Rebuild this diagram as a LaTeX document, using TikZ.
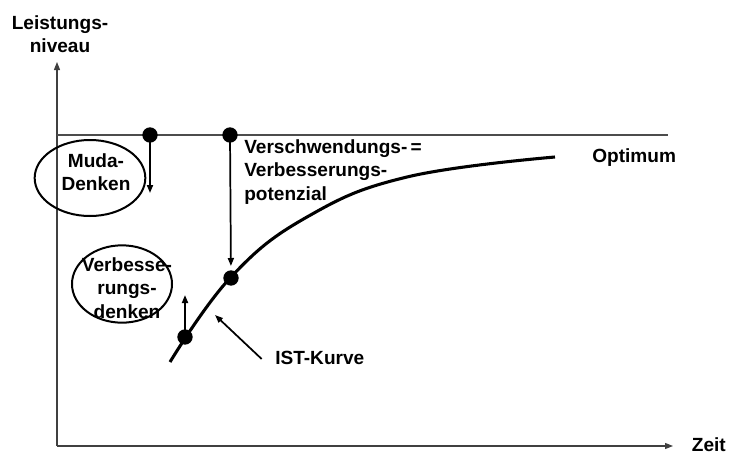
\documentclass[tikz,border=0pt]{standalone}
\usepackage{fontspec}
\setmainfont{Liberation Sans}
\usetikzlibrary{arrows.meta}

\tikzset{
  lbl/.style={inner sep=0pt,font=\bfseries\fontsize{14.3}{17.5}\selectfont,align=left},
  dot/.style={circle,fill=black,inner sep=0pt,minimum width=10pt,minimum height=11.5pt},
  axis/.style={line width=0.8pt,draw=black!75,-{Triangle[length=6pt,width=4.5pt]}},
  pointer/.style={line width=1.3pt,-{Triangle[length=6pt,width=4.5pt]}}
}

\begin{document}
\begin{tikzpicture}[x=0.75pt,y=0.75pt,yscale=-1,xscale=1]
\useasboundingbox (0,0) rectangle (730,457);

% axes
\coordinate (o) at (57,446);
\coordinate (ytip) at (57,62);
\coordinate (xtip) at (673,446);
\draw[axis] (o) -- (ytip);
\draw[axis] (o) -- (xtip);

% Optimum line
\coordinate (optL) at (57,135);
\coordinate (optR) at (668,135);
\draw[line width=0.8pt,draw=black!70] (optL) -- (optR);

% IST curve
\draw[line width=2.3pt] plot[smooth,tension=0.7] coordinates {(170,362) (231,277) (307,217) (407,177) (555,157)};

% Dots
\node[dot] (d1) at (150,135) {};
\node[dot] (d2) at (230,135) {};
\node[dot] (d3) at (231,278) {};
\node[dot] (d4) at (185,337) {};

% Arrows
\coordinate (m1) at (150,193);
\draw[pointer] (d1.center) -- (m1);
\draw[pointer,shorten >=9pt] (d2.center) -- (d3.center);
\coordinate (u4) at (185,295);
\draw[pointer] (d4.center) -- (u4);

% Ellipses
\draw[line width=1.5pt] (90,178) ellipse [x radius=41.5pt, y radius=28.5pt];
\draw[line width=1.5pt] (122,284) ellipse [x radius=37.5pt, y radius=29pt];

% Text Node
\node[lbl,align=center] (yl) at (60,34) {Leistungs-\\niveau};
\node[lbl,anchor=east] (zeit) at (726,445) {Zeit};
\node[lbl,align=center] (muda) at (96,172) {Muda-\\Denken};
\node[lbl,align=center] (verb) at (127,288) {Verbesse-\\rungs-\\denken};
\node[lbl,anchor=west] (pot) at (244,172) {Verschwendungs-\,=\\Verbesserungs-\\potenzial};
\node[lbl,anchor=west] (opt) at (592,158) {Optimum};
\node[lbl,anchor=west] (ist) at (275,358) {IST-Kurve};

% IST pointer
\coordinate (istend) at (215,315);
\draw[pointer] ([xshift=-10pt,yshift=6pt]ist.north west) -- (istend);

\end{tikzpicture}
\end{document}
